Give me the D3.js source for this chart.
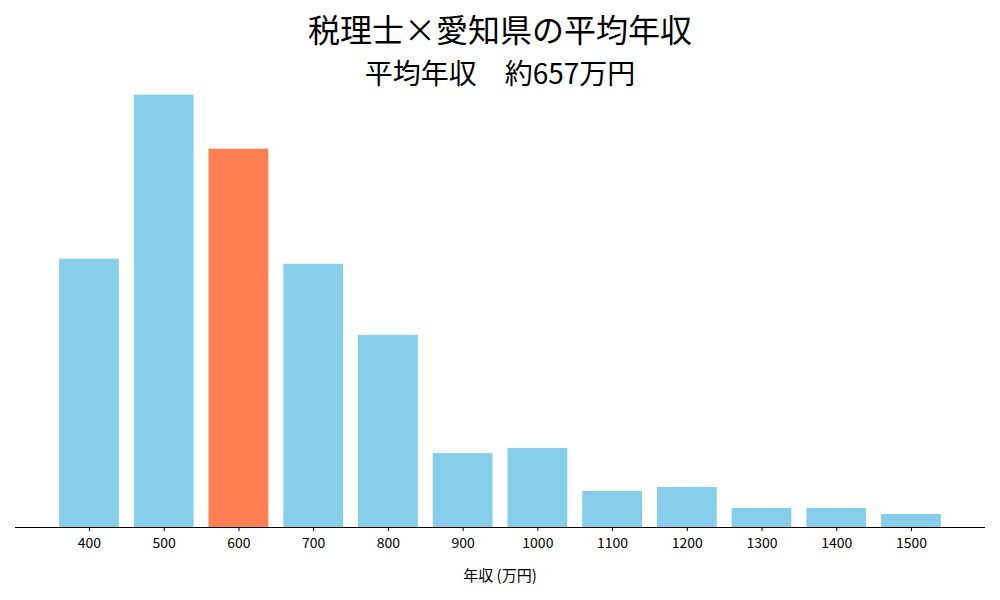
<!DOCTYPE html>
<html><head><meta charset="utf-8">
<script src="https://cdn.jsdelivr.net/npm/d3@7"></script>
<style>body{margin:0;background:#fff}text{font-family:"Noto Sans CJK JP","Noto Sans",sans-serif}</style>
</head><body><div id="chart"></div>
<script>
const categories = ["400","500","600","700","800","900","1000","1100","1200","1300","1400","1500"];
const counts = [268, 432, 378, 263, 192, 74, 79, 36, 40, 19, 19, 13];
const highlight = "600";
const title = "税理士×愛知県の平均年収";
const subtitle = "平均年収　約657万円";
const xLabel = "年収 (万円)";

const W = 1000, H = 600;
const svg = d3.select("#chart").append("svg").attr("width", W).attr("height", H);

const x = d3.scaleLinear().domain([-0.99, categories.length - 0.01]).range([15, 985]);
const y = d3.scaleLinear().domain([0, d3.max(counts) * 1.05]).range([527, 73]);
const bw = (x(1) - x(0)) * 0.8;

svg.selectAll("rect").data(counts).join("rect")
  .attr("x", (d, i) => x(i) - bw / 2)
  .attr("y", d => y(d))
  .attr("width", bw)
  .attr("height", d => y(0) - y(d))
  .attr("fill", (d, i) => categories[i] === highlight ? "#ff7f50" : "#87ceeb");

const axis = d3.axisBottom(x).tickValues(d3.range(categories.length))
  .tickFormat(i => categories[i]).tickSizeOuter(0).tickSize(4);
const g = svg.append("g").attr("transform", `translate(0,${y(0)})`).call(axis);
g.select(".domain").attr("d", "M15,0.5H985");
g.selectAll("text").attr("font-size", 14).attr("dy", "1em").attr("fill", "#000");

svg.append("text").attr("x", 500).attr("y", 581).attr("text-anchor", "middle")
  .attr("font-size", 15).text(xLabel);
svg.append("text").attr("x", 500).attr("y", 42).attr("text-anchor", "middle")
  .attr("font-size", 32).text(title);
svg.append("text").attr("x", 500).attr("y", 84).attr("text-anchor", "middle")
  .attr("font-size", 28).text(subtitle);
</script></body></html>
